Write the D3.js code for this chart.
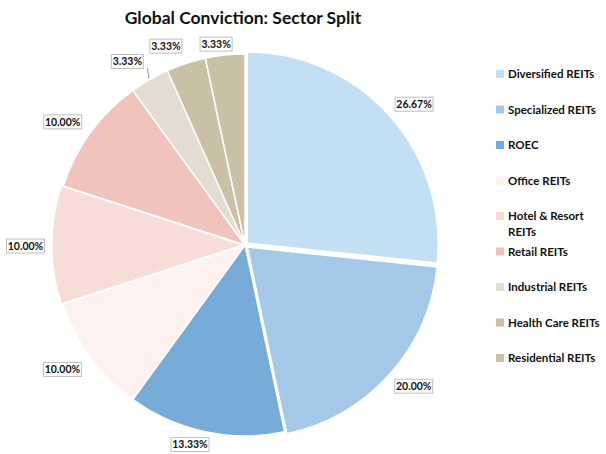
<!DOCTYPE html>
<html>
<head>
<meta charset="utf-8">
<script src="https://cdn.jsdelivr.net/npm/d3@7"></script>
<style>
  body { margin: 0; background: #fff; }
  text { font-family: Lato, "Open Sans", sans-serif; font-weight: bold; fill: #111; }
</style>
</head>
<body>
<div id="chart"></div>
<script>
// data
var sectors = ["Diversified REITs", "Specialized REITs", "ROEC", "Office REITs",
    "Hotel & Resort REITs", "Retail REITs", "Industrial REITs", "Health Care REITs", "Residential REITs"];
var shares = [26.67, 20.00, 13.33, 10.00, 10.00, 10.00, 3.33, 3.33, 3.33];
var colours = ["#c3dff3", "#a4c9e8", "#76acd7", "#fdf2f0", "#f8dcd8", "#f0c3bd",
    "#e2ddd0", "#c9c0a6", "#c9c0a6"];
var legendLines = [["Diversified REITs"], ["Specialized REITs"], ["ROEC"], ["Office REITs"],
    ["Hotel & Resort", "REITs"], ["Retail REITs"], ["Industrial REITs"], ["Health Care REITs"], ["Residential REITs"]];

// layout
var vWidth = 606, vHeight = 454;
var cx = 245, cy = 245, R = 191;
var explode = [3, 3, 0, 0, 2, 0, 0, 0, 0];            // small pull-out like the original
var labelNudge = [2.2, -2.1, 3.4, 1.7, -0.3, -2, -2.7, -3.7, -2.2]; // degrees
var labelDist = [220, 220, 207, 221, 219.5, 220, 218, 214, 203];    // from centre

var svg = d3.select("#chart").append("svg")
    .attr("width", vWidth)
    .attr("height", vHeight);

svg.append("text")
    .attr("x", 243)
    .attr("y", 24)
    .attr("text-anchor", "middle")
    .style("font-size", "17.5px")
    .text("Global Conviction: Sector Split");

var pie = d3.pie().sort(null).value(function (d) { return d; });
var arcs = pie(shares);
var arc = d3.arc().innerRadius(0).outerRadius(R);

var g = svg.append("g").attr("transform", "translate(" + cx + "," + cy + ")");

g.selectAll("path.slice")
    .data(arcs)
    .enter()
    .append("path")
    .attr("class", "slice")
    .attr("transform", function (d, i) {
        var a = (d.startAngle + d.endAngle) / 2;
        return "translate(" + (Math.sin(a) * explode[i]) + "," + (-Math.cos(a) * explode[i]) + ")";
    })
    .attr("d", arc)
    .attr("fill", function (d, i) { return colours[i]; })
    .attr("stroke", "#fff")
    .attr("stroke-width", 1.5);

function labelPos(d, i) {
    var a = (d.startAngle + d.endAngle) / 2 + labelNudge[i] * Math.PI / 180;
    return [Math.sin(a) * labelDist[i], -Math.cos(a) * labelDist[i]];
}

// leader line for the industrial slice
var ind = arcs[6];
var ia = (ind.startAngle + ind.endAngle) / 2;
var ip = labelPos(ind, 6);
g.append("line")
    .attr("x1", ip[0] + 20)
    .attr("y1", ip[1] + 6)
    .attr("x2", Math.sin(ia) * (R + 1))
    .attr("y2", -Math.cos(ia) * (R + 1))
    .attr("stroke", "#7f7f7f")
    .attr("stroke-width", 0.8);

// data labels
var labels = g.selectAll("g.lbl")
    .data(arcs)
    .enter()
    .append("g")
    .attr("class", "lbl")
    .attr("transform", function (d, i) {
        return "translate(" + labelPos(d, i) + ")";
    });

labels.append("rect")
    .attr("x", function (d) { return d.value >= 10 ? -19 : -16; })
    .attr("y", -7)
    .attr("width", function (d) { return d.value >= 10 ? 38 : 32; })
    .attr("height", 14)
    .attr("fill", "#fff")
    .attr("stroke", "#bfbfbf")
    .attr("stroke-width", 1);

labels.append("text")
    .attr("text-anchor", "middle")
    .attr("dy", "0.35em")
    .style("font-size", "10.5px")
    .text(function (d) { return d.value.toFixed(2) + "%"; });

// legend
var legend = svg.append("g").attr("transform", "translate(496,74)");
var rows = legend.selectAll("g")
    .data(sectors)
    .enter()
    .append("g")
    .attr("transform", function (d, i) { return "translate(0," + (i * 35.5) + ")"; });

rows.append("rect")
    .attr("x", 0)
    .attr("y", -4)
    .attr("width", 8)
    .attr("height", 8)
    .attr("fill", function (d, i) { return colours[i]; });

rows.append("text")
    .style("font-size", "11.5px")
    .selectAll("tspan")
    .data(function (d, i) { return legendLines[i]; })
    .enter()
    .append("tspan")
    .attr("x", 12)
    .attr("dy", function (d, j) { return j === 0 ? "0.35em" : "1.4em"; })
    .text(function (d) { return d; });
</script>
</body>
</html>
